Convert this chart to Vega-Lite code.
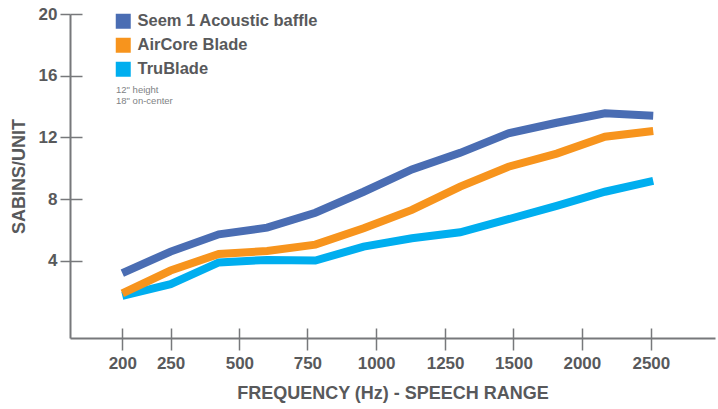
{
  "$schema": "https://vega.github.io/schema/vega-lite/v6.json",
  "width": 645,
  "height": 324,
  "autosize": "none",
  "padding": {"left": 70, "top": 14, "right": 3, "bottom": 71},
  "background": "white",
  "config": {
    "view": {"stroke": null},
    "font": "Liberation Sans",
    "axis": {"grid": false}
  },
  "resolve": {"axis": {"x": "independent", "y": "independent"}},
  "layer": [
    {
      "data": {
        "values": [
          {"product": "TruBlade", "freq": 200, "step": 0, "sabins": 1.73},
          {"product": "TruBlade", "freq": 250, "step": 1, "sabins": 2.49},
          {"product": "TruBlade", "freq": 315, "step": 2, "sabins": 3.9},
          {"product": "TruBlade", "freq": 400, "step": 3, "sabins": 4.06},
          {"product": "TruBlade", "freq": 500, "step": 4, "sabins": 4.02},
          {"product": "TruBlade", "freq": 630, "step": 5, "sabins": 4.92},
          {"product": "TruBlade", "freq": 800, "step": 6, "sabins": 5.46},
          {"product": "TruBlade", "freq": 1000, "step": 7, "sabins": 5.85},
          {"product": "TruBlade", "freq": 1250, "step": 8, "sabins": 6.7},
          {"product": "TruBlade", "freq": 1600, "step": 9, "sabins": 7.56},
          {"product": "TruBlade", "freq": 2000, "step": 10, "sabins": 8.48},
          {"product": "TruBlade", "freq": 2500, "step": 11, "sabins": 9.18},
          {"product": "AirCore Blade", "freq": 200, "step": 0, "sabins": 1.9},
          {"product": "AirCore Blade", "freq": 250, "step": 1, "sabins": 3.37},
          {"product": "AirCore Blade", "freq": 315, "step": 2, "sabins": 4.45},
          {"product": "AirCore Blade", "freq": 400, "step": 3, "sabins": 4.64},
          {"product": "AirCore Blade", "freq": 500, "step": 4, "sabins": 5.05},
          {"product": "AirCore Blade", "freq": 630, "step": 5, "sabins": 6.11},
          {"product": "AirCore Blade", "freq": 800, "step": 6, "sabins": 7.3},
          {"product": "AirCore Blade", "freq": 1000, "step": 7, "sabins": 8.81},
          {"product": "AirCore Blade", "freq": 1250, "step": 8, "sabins": 10.1},
          {"product": "AirCore Blade", "freq": 1600, "step": 9, "sabins": 10.95},
          {"product": "AirCore Blade", "freq": 2000, "step": 10, "sabins": 12.05},
          {"product": "AirCore Blade", "freq": 2500, "step": 11, "sabins": 12.42},
          {"product": "Seem 1 Acoustic baffle", "freq": 200, "step": 0, "sabins": 3.2},
          {"product": "Seem 1 Acoustic baffle", "freq": 250, "step": 1, "sabins": 4.6},
          {"product": "Seem 1 Acoustic baffle", "freq": 315, "step": 2, "sabins": 5.72},
          {"product": "Seem 1 Acoustic baffle", "freq": 400, "step": 3, "sabins": 6.15},
          {"product": "Seem 1 Acoustic baffle", "freq": 500, "step": 4, "sabins": 7.12},
          {"product": "Seem 1 Acoustic baffle", "freq": 630, "step": 5, "sabins": 8.48},
          {"product": "Seem 1 Acoustic baffle", "freq": 800, "step": 6, "sabins": 9.93},
          {"product": "Seem 1 Acoustic baffle", "freq": 1000, "step": 7, "sabins": 11.0},
          {"product": "Seem 1 Acoustic baffle", "freq": 1250, "step": 8, "sabins": 12.27},
          {"product": "Seem 1 Acoustic baffle", "freq": 1600, "step": 9, "sabins": 12.95},
          {"product": "Seem 1 Acoustic baffle", "freq": 2000, "step": 10, "sabins": 13.56},
          {"product": "Seem 1 Acoustic baffle", "freq": 2500, "step": 11, "sabins": 13.41}
        ]
      },
      "mark": {"type": "line", "strokeWidth": 8, "strokeJoin": "miter"},
      "encoding": {
        "x": {
          "field": "step",
          "type": "quantitative",
          "scale": {"domain": [-1.084, 12.28], "nice": false, "zero": false},
          "axis": {
            "orient": "bottom",
            "values": [0, 1, 2.425, 3.834, 5.258, 6.688, 8.104, 9.521, 10.951],
            "labelExpr": "datum.value < 0.5 ? '200' : datum.value < 1.5 ? '250' : datum.value < 3 ? '500' : datum.value < 4.5 ? '750' : datum.value < 6 ? '1000' : datum.value < 7.5 ? '1250' : datum.value < 9 ? '1500' : datum.value < 10.2 ? '2000' : '2500'",
            "tickSize": 12,
            "tickWidth": 1.5,
            "tickColor": "#77787b",
            "domainColor": "#77787b",
            "domainWidth": 2,
            "labelFontSize": 17,
            "labelFontWeight": "bold",
            "labelColor": "#58595b",
            "labelPadding": 5,
            "labelFlush": false,
            "labelOverlap": false,
            "title": "FREQUENCY (Hz) - SPEECH RANGE",
            "titleFontSize": 18,
            "titleFontWeight": "bold",
            "titleColor": "#58595b",
            "titlePadding": 13
          }
        },
        "y": {
          "field": "sabins",
          "type": "quantitative",
          "scale": {"domain": [-1, 20], "nice": false, "zero": false},
          "axis": {
            "orient": "left",
            "values": [4, 8, 12, 16, 20],
            "tickSize": 10,
            "tickWidth": 1.5,
            "tickColor": "#77787b",
            "domainColor": "#77787b",
            "domainWidth": 2,
            "labelFontSize": 17,
            "labelFontWeight": "bold",
            "labelColor": "#58595b",
            "labelPadding": 3,
            "labelFlush": false,
            "title": "SABINS/UNIT",
            "titleFontSize": 18,
            "titleFontWeight": "bold",
            "titleColor": "#58595b",
            "titlePadding": 10
          }
        },
        "color": {
          "field": "product",
          "type": "nominal",
          "scale": {
            "domain": ["Seem 1 Acoustic baffle", "AirCore Blade", "TruBlade"],
            "range": ["#4a6db3", "#f7941d", "#00aeef"]
          },
          "legend": {
            "orient": "none",
            "legendX": 45,
            "legendY": -1,
            "title": null,
            "symbolType": "square",
            "symbolSize": 225,
            "symbolStrokeWidth": 0,
            "labelFontSize": 16.5,
            "labelFontWeight": "bold",
            "labelColor": "#58595b",
            "labelOffset": 6,
            "labelLimit": 0,
            "rowPadding": 7,
            "padding": 0,
            "encode": {
              "symbols": {
                "update": {
                  "fill": {"scale": "color", "field": "value"},
                  "strokeWidth": {"value": 0},
                  "opacity": {"value": 1}
                }
              }
            }
          }
        }
      }
    },
    {
      "data": {
        "values": [
          {"note": "12\" height", "step": -0.13, "sabins": 15.1},
          {"note": "18\" on-center", "step": -0.13, "sabins": 14.36}
        ]
      },
      "mark": {"type": "text", "align": "left", "baseline": "middle", "fontSize": 9.5, "color": "#808285"},
      "encoding": {
        "x": {
          "field": "step",
          "type": "quantitative",
          "axis": {
            "orient": "bottom",
            "values": [0, 1, 2.425, 3.834, 5.258, 6.688, 8.104, 9.521, 10.951],
            "tickSize": -10,
            "tickWidth": 1.5,
            "tickColor": "#77787b",
            "domain": false,
            "labels": false,
            "title": null
          }
        },
        "y": {
          "field": "sabins",
          "type": "quantitative",
          "axis": {
            "orient": "left",
            "values": [4, 8, 12, 16, 20],
            "tickSize": -12,
            "tickWidth": 1.5,
            "tickColor": "#77787b",
            "domain": false,
            "labels": false,
            "title": null
          }
        },
        "text": {"field": "note"}
      }
    }
  ]
}
